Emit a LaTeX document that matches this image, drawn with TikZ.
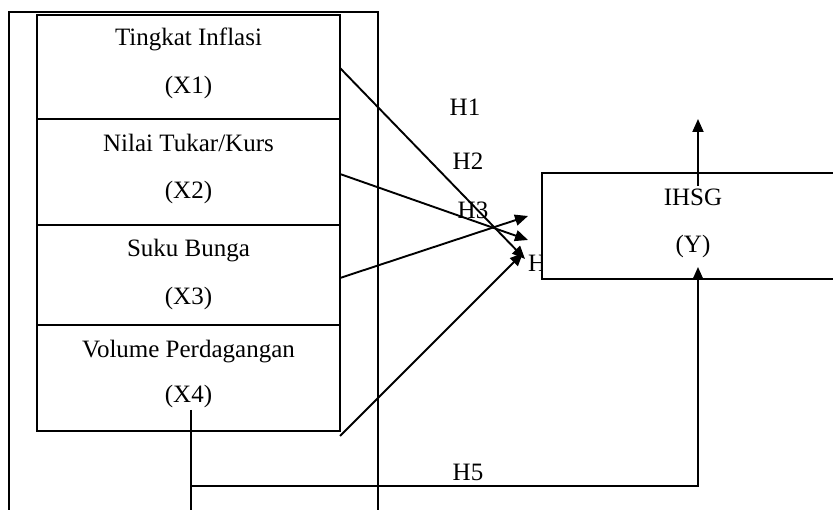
\documentclass[tikz,border=0pt]{standalone}
\usepackage{fontspec}
\setmainfont{Liberation Serif}
\usetikzlibrary{arrows.meta}
\begin{document}
\begin{tikzpicture}[x=1pt,y=-1pt,
  every node/.style={font=\fontsize{25}{30}\selectfont, inner sep=0pt},
  line/.style={line width=1.7pt},
  arr/.style={line width=1.9pt,-{Triangle[length=13pt,width=11pt]}},
  xbox/.style={draw,line width=1.7pt,minimum width=303pt,minimum height=#1,fill=none},
  lbl/.style={anchor=base}]
\useasboundingbox (0,0) rectangle (833,510);
% outer frame
\draw[line] (9,512) -- (9,12) -- (378,12) -- (378,512);
% X boxes
\node[xbox=104pt] (bx1) at (188.5,67) {};
\node[xbox=106pt] (bx2) at (188.5,172) {};
\node[xbox=100pt] (bx3) at (188.5,275) {};
\node[xbox=106pt] (bx4) at (188.5,378) {};
\node[lbl] (t1a) at (188.5,46) {Tingkat Inflasi};
\node[lbl] (t1b) at (188.5,94) {(X1)};
\node[lbl] (t2a) at (188.5,152) {Nilai Tukar/Kurs};
\node[lbl] (t2b) at (188.5,199) {(X2)};
\node[lbl] (t3a) at (188.5,257) {Suku Bunga};
\node[lbl] (t3b) at (188.5,305) {(X3)};
\node[lbl] (t4a) at (188.5,358) {Volume Perdagangan};
\node[lbl] (t4b) at (188.5,403) {(X4)};
% hypothesis labels
\node[lbl] (h1) at (465,116) {H1};
\node[lbl] (h2) at (468,170) {H2};
\node[lbl] (h3) at (473,219) {H3};
\node[anchor=base west] (h4) at (528,272) {H4};
\node[lbl] (h5) at (468,480) {H5};
% coordinates
\coordinate (s1) at (340,68);
\coordinate (s2) at (340,174);
\coordinate (s3) at (340,278);
\coordinate (s4) at (340,436);
\coordinate (e1) at (525,259);
\coordinate (e2) at (528,240);
\coordinate (e3) at (528,216);
\coordinate (e4) at (523,253);
\draw[arr] (s1) -- (e1);
\draw[arr] (s2) -- (e2);
\draw[arr] (s3) -- (e3);
\draw[arr] (s4) -- (e4);
% Y box
\node[draw,fill=white,line width=1.7pt,minimum width=294pt,minimum height=106pt] (by) at (689,226) {};
\node[lbl] (ya) at (693,206) {IHSG};
\node[lbl] (yb) at (693,253) {(Y)};
\coordinate (u1) at (698,186);
\coordinate (u2) at (698,119);
\draw[arr] (u1) -- (u2);
% H5 path
\coordinate (v1) at (191,410);
\coordinate (v2) at (191,512);
\coordinate (c1) at (191,486);
\coordinate (c2) at (698,486);
\coordinate (c3) at (698,267);
\draw[line] (v1) -- (v2);
\draw[arr] (c1) -- (c2) -- (c3);
\end{tikzpicture}
\end{document}
